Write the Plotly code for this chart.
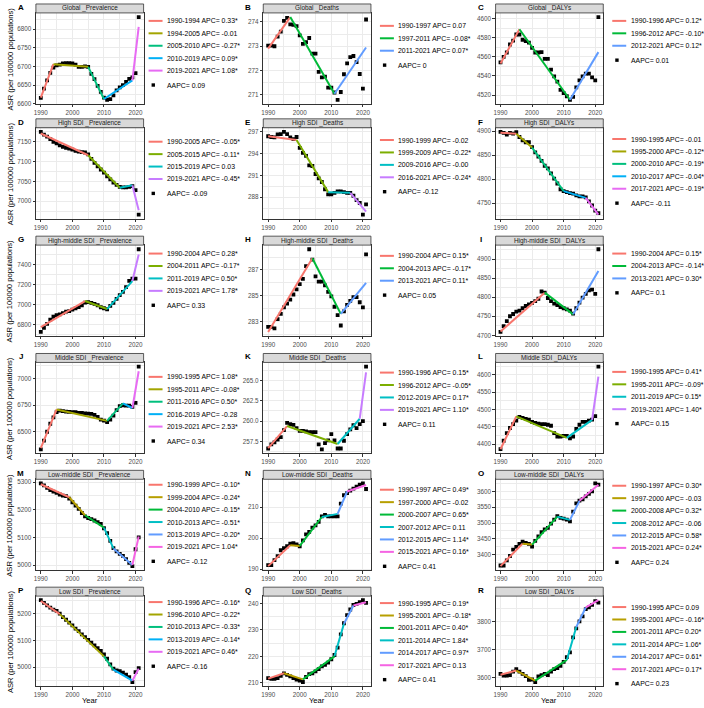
import plotly.graph_objects as go

YEARS = list(range(1990, 2022))

# ---------------- data ----------------
A_TITLE = "Global _Prevalence"
A_JOINS = [1990, 1994, 2005, 2010, 2019, 2021]
A_FIT = [6617, 6706, 6699, 6613, 6663, 6806]
A_APC = ["0.33*", "-0.01", "-0.27*", "0.09*", "1.08*"]
A_AAPC = "0.09"
A_OBS = [6616, 6641, 6663, 6683, 6697, 6703, 6705, 6708, 6709, 6709, 6708, 6705, 6699, 6699, 6700, 6699,
         6680, 6666, 6648, 6632, 6617, 6611, 6613, 6623, 6636, 6644, 6650, 6659, 6667, 6671, 6682, 6832]

B_TITLE = "Global _Deaths"
B_JOINS = [1990, 1997, 2011, 2021]
B_FIT = [272.9, 274.2, 271.05, 272.95]
B_APC = ["0.07", "-0.08*", "0.07*"]
B_AAPC = "0"
B_OBS = [273.03, 273.03, 273.0, 273.4, 273.6, 274.04, 274.17, 273.9, 273.88, 273.83, 273.45, 273.1, 273.17,
         273.34, 272.7, 272.7, 271.95, 271.72, 271.75, 271.3, 271.3, 271.1, 270.8, 271.12, 271.85, 272.3,
         272.55, 272.6, 272.35, 271.86, 271.26, 274.1]

C_TITLE = "Global _DALYs"
C_JOINS = [1990, 1996, 2012, 2021]
C_FIT = [4553, 4589, 4515, 4565]
C_APC = ["0.12*", "-0.10*", "0.12*"]
C_AAPC = "0.01"
C_OBS = [4554.3, 4560, 4564.6, 4573, 4577, 4583.5, 4583.5, 4578, 4576.5, 4575, 4569.5, 4564.6, 4564.6, 4565,
         4558, 4558, 4546.6, 4539.6, 4534, 4525.4, 4522, 4518.7, 4515, 4518, 4528, 4535.4, 4539.6, 4542.5,
         4542.5, 4538.6, 4535.4, 4601.8]

D_TITLE = "High SDI _Prevalence"
D_JOINS = [1990, 2005, 2015, 2019, 2021]
D_FIT = [7171, 7116, 7034, 7040, 6977]
D_APC = ["-0.05*", "-0.11*", "0.03", "-0.45*"]
D_AAPC = "-0.09"
D_OBS = [7175, 7168, 7163, 7157, 7150, 7146, 7141, 7137, 7135, 7133, 7130, 7127, 7125, 7124, 7123, 7118,
         7107, 7097, 7088, 7080, 7072, 7063, 7055, 7047, 7041, 7036, 7035, 7035, 7036, 7038, 7028, 6966]

E_TITLE = "High SDI _Deaths"
E_JOINS = [1990, 1999, 2009, 2016, 2021]
E_FIT = [296.4, 295.9, 288.7, 288.6, 286.0]
E_APC = ["-0.02", "-0.22*", "-0.00", "-0.24*"]
E_AAPC = "-0.12"
E_OBS = [296.4, 296.3, 296.25, 296.65, 296.7, 297.0, 296.7, 296.25, 296.0, 296.3, 294.8, 294.1, 293.7, 292.4,
         292.3, 291.2, 290.6, 290.1, 289.1, 288.4, 288.4, 288.6, 288.8, 288.8, 288.7, 288.6, 288.6, 288.2,
         287.6, 287.2, 285.6, 287.0]

F_TITLE = "High SDI _DALYs"
F_JOINS = [1990, 1995, 2000, 2010, 2017, 2021]
F_FIT = [4897, 4895, 4866, 4775, 4761, 4726]
F_APC = ["-0.01", "-0.12*", "-0.19*", "-0.04*", "-0.19*"]
F_AAPC = "-0.11"
F_OBS = [4898.6, 4896.5, 4893, 4896.5, 4895, 4898, 4888, 4881, 4877, 4877, 4867, 4856, 4847, 4838, 4828,
         4822.5, 4812, 4801, 4791, 4779, 4775, 4773, 4771, 4770, 4766, 4764, 4764, 4762, 4753.5, 4745,
         4734.5, 4729]

G_TITLE = "High-middle SDI _Prevalence"
G_JOINS = [1990, 2004, 2011, 2019, 2021]
G_FIT = [6775, 7035, 6955, 7235, 7500]
G_APC = ["0.28*", "-0.17*", "0.50*", "1.78*"]
G_AAPC = "0.33"
G_OBS = [6726, 6766, 6807, 6850, 6878, 6895, 6902, 6915, 6929, 6935, 6949, 6962, 6975, 6993, 7020, 7024,
         7017, 7007, 6993, 6973, 6963, 6953, 6986, 7017, 7057, 7094, 7127, 7175, 7236, 7260, 7260, 7553]

H_TITLE = "High-middle SDI _Deaths"
H_JOINS = [1990, 2004, 2013, 2021]
H_FIT = [282.2, 287.9, 283.6, 286.0]
H_APC = ["0.15*", "-0.17*", "0.11*"]
H_AAPC = "0.05"
H_OBS = [282.6, 282.6, 282.47, 283.2, 283.6, 284.1, 284.4, 284.7, 285.1, 285.5, 285.9, 286.3, 287.3, 288.6,
         287.8, 286.5, 286.1, 286.1, 285.8, 285.3, 284.95, 284.15, 283.5, 282.7, 283.8, 284.3, 284.6, 284.9,
         284.9, 284.5, 284.1, 288.2]

I_TITLE = "High-middle SDI _DALYs"
I_JOINS = [1990, 2004, 2013, 2021]
I_FIT = [4710, 4812, 4755, 4869]
I_APC = ["0.15*", "-0.14*", "0.30*"]
I_AAPC = "0.1"
I_OBS = [4708.8, 4724, 4737, 4750, 4756, 4762, 4765, 4771, 4777, 4781, 4785, 4790, 4796, 4815, 4812, 4798,
         4790, 4783, 4779, 4774, 4771, 4768, 4765, 4757, 4771, 4786, 4799, 4809, 4818, 4820, 4809, 4926]

J_TITLE = "Middle SDI _Prevalence"
J_JOINS = [1990, 1995, 2011, 2016, 2019, 2021]
J_FIT = [6342, 6708, 6600, 6765, 6722, 7070]
J_APC = ["1.08*", "-0.08*", "0.50*", "-0.28", "2.53*"]
J_AAPC = "0.34"
J_OBS = [6331, 6414, 6497, 6573, 6634, 6682, 6698, 6692, 6688, 6685, 6682, 6682, 6675, 6675, 6672, 6669,
         6666, 6656, 6637, 6612, 6602, 6589, 6612, 6650, 6701, 6739, 6748, 6745, 6745, 6732, 6771, 7114]

K_TITLE = "Middle SDI _Deaths"
K_JOINS = [1990, 1996, 2012, 2019, 2021]
K_FIT = [256.7, 259.4, 257.2, 260.3, 266.0]
K_APC = ["0.15*", "-0.05*", "0.17*", "1.10*"]
K_AAPC = "0.11"
K_OBS = [256.65, 257.15, 257.4, 257.75, 258.05, 258.9, 259.8, 259.65, 259.55, 259.15, 258.8, 258.8, 258.75,
         258.65, 258.65, 258.65, 257.15, 256.55, 257.3, 257.65, 258.4, 257.65, 256.65, 256.65, 257.6, 258.4,
         259.0, 259.5, 259.15, 259.65, 260.0, 266.7]

L_TITLE = "Middle SDI _DALYs"
L_JOINS = [1990, 1995, 2011, 2019, 2021]
L_FIT = [4385, 4480, 4418, 4470, 4595]
L_APC = ["0.41*", "-0.09*", "0.15*", "1.40*"]
L_AAPC = "0.15"
L_OBS = [4385.4, 4409.7, 4432, 4446.6, 4458, 4468, 4478.6, 4475.7, 4473, 4471, 4464, 4461, 4459, 4458, 4458,
         4456, 4453, 4432, 4422, 4422, 4424, 4424, 4416.5, 4422, 4443.7, 4456, 4464, 4464, 4468, 4471,
         4480.6, 4624]

M_TITLE = "Low-middle SDI _Prevalence"
M_JOINS = [1990, 1999, 2004, 2010, 2013, 2019, 2021]
M_FIT = [5292, 5245, 5180, 5135, 5060, 5000, 5103]
M_APC = ["-0.10*", "-0.24*", "-0.15*", "-0.51*", "-0.20*", "1.04*"]
M_AAPC = "-0.12"
M_OBS = [5295, 5288, 5279, 5271, 5265, 5261, 5255, 5251, 5249, 5240, 5227, 5215, 5203, 5188, 5176, 5170,
         5166, 5161, 5155, 5149, 5133, 5115, 5087, 5061, 5049, 5040, 5033, 5021, 5008, 4996, 5057, 5100]

N_TITLE = "Low-middle SDI _Deaths"
N_JOINS = [1990, 1997, 2000, 2007, 2012, 2015, 2021]
N_FIT = [191.0, 197.7, 197.5, 206.8, 207.8, 215.0, 217.1]
N_APC = ["0.49*", "-0.02", "0.65*", "0.11", "1.14*", "0.16*"]
N_AAPC = "0.41"
N_OBS = [191.3, 191.3, 192.9, 194.2, 196.1, 196.8, 197.4, 198.2, 198.4, 198.0, 197.4, 199.3, 201.2, 202.0,
         203.4, 204.1, 205.2, 207.0, 207.5, 207.0, 207.0, 207.0, 207.0, 211.1, 213.8, 214.5, 215.3, 215.9,
         216.6, 217.2, 217.6, 215.8]

O_TITLE = "Low-middle SDI _DALYs"
O_JOINS = [1990, 1997, 2000, 2008, 2012, 2015, 2021]
O_FIT = [3364, 3435, 3432, 3520, 3510, 3570, 3621]
O_APC = ["0.30*", "-0.03", "0.32*", "-0.06", "0.58*", "0.24*"]
O_AAPC = "0.24"
O_OBS = [3366, 3366, 3382, 3396, 3416, 3425, 3434, 3441, 3437, 3434, 3426, 3444, 3458, 3471, 3480, 3485,
         3498, 3511, 3522, 3516, 3514, 3511, 3505, 3536, 3562, 3571, 3575, 3584, 3592, 3600, 3625, 3621]

P_TITLE = "Low SDI _Prevalence"
P_JOINS = [1990, 1996, 2010, 2013, 2019, 2021]
P_FIT = [5247, 5198, 5040, 4990, 4949, 4994]
P_APC = ["-0.16*", "-0.22*", "-0.33*", "-0.14*", "0.46*"]
P_AAPC = "-0.16"
P_OBS = [5250, 5240, 5231, 5222, 5215, 5210, 5200, 5187, 5177, 5166, 5156, 5144, 5134, 5122, 5112, 5102,
         5091, 5081, 5071, 5060, 5047, 5031, 5010, 4994, 4987, 4985, 4979, 4972, 4962, 4944, 4981, 4996]

Q_TITLE = "Low SDI _Deaths"
Q_JOINS = [1990, 1995, 2001, 2011, 2014, 2017, 2021]
Q_FIT = [211.6, 213.6, 211.3, 220.0, 232.3, 239.2, 240.4]
Q_APC = ["0.19*", "-0.18*", "0.40*", "1.84*", "0.97*", "0.13"]
Q_AAPC = "0.41"
Q_OBS = [211.8, 211.5, 211.5, 211.8, 212.6, 213.6, 213.0, 212.4, 211.8, 211.2, 210.8, 210.3, 212.2, 213.3,
         213.6, 214.3, 215.2, 216.2, 216.8, 217.6, 218.9, 220.5, 223.3, 228.3, 232.5, 235.6, 237.7, 239.4,
         239.8, 240.5, 241.2, 240.2]

R_TITLE = "Low SDI _DALYs"
R_JOINS = [1990, 1995, 2001, 2011, 2014, 2017, 2021]
R_FIT = [3611, 3626, 3590, 3664, 3782, 3852, 3878]
R_APC = ["0.09", "-0.16*", "0.20*", "1.06*", "0.61*", "0.17*"]
R_AAPC = "0.23"
R_OBS = [3614, 3608, 3608, 3610, 3622, 3631, 3622, 3614, 3606, 3593, 3594, 3585, 3605, 3610, 3614, 3610,
         3622, 3631, 3635, 3643, 3657, 3674, 3691, 3745, 3777, 3802, 3820, 3846, 3852, 3861, 3875, 3869]

# y tick step / first tick per panel
Y_DTICK = [50, 1, 20, 50, 3, 50, 200, 2, 50, 250, 2.5, 50, 100, 10, 50, 100, 10, 100]
Y_TICK0 = [0, 0, 0, 0, 0, 0, 0, 1, 0, 0, 0, 0, 0, 0, 0, 0, 0, 0]
Y_FMT = ["", "", "", "", "", "", "", "", "", "", ".1f", "", "", "", "", "", "", ""]

LETTERS = list("ABCDEFGHIJKLMNOPQR")
TITLES = [A_TITLE, B_TITLE, C_TITLE, D_TITLE, E_TITLE, F_TITLE, G_TITLE, H_TITLE, I_TITLE,
          J_TITLE, K_TITLE, L_TITLE, M_TITLE, N_TITLE, O_TITLE, P_TITLE, Q_TITLE, R_TITLE]
JOINS = [A_JOINS, B_JOINS, C_JOINS, D_JOINS, E_JOINS, F_JOINS, G_JOINS, H_JOINS, I_JOINS,
         J_JOINS, K_JOINS, L_JOINS, M_JOINS, N_JOINS, O_JOINS, P_JOINS, Q_JOINS, R_JOINS]
FITS = [A_FIT, B_FIT, C_FIT, D_FIT, E_FIT, F_FIT, G_FIT, H_FIT, I_FIT,
        J_FIT, K_FIT, L_FIT, M_FIT, N_FIT, O_FIT, P_FIT, Q_FIT, R_FIT]
APCS = [A_APC, B_APC, C_APC, D_APC, E_APC, F_APC, G_APC, H_APC, I_APC,
        J_APC, K_APC, L_APC, M_APC, N_APC, O_APC, P_APC, Q_APC, R_APC]
AAPCS = [A_AAPC, B_AAPC, C_AAPC, D_AAPC, E_AAPC, F_AAPC, G_AAPC, H_AAPC, I_AAPC,
         J_AAPC, K_AAPC, L_AAPC, M_AAPC, N_AAPC, O_AAPC, P_AAPC, Q_AAPC, R_AAPC]
OBS = [A_OBS, B_OBS, C_OBS, D_OBS, E_OBS, F_OBS, G_OBS, H_OBS, I_OBS,
       J_OBS, K_OBS, L_OBS, M_OBS, N_OBS, O_OBS, P_OBS, Q_OBS, R_OBS]

# ---------------- layout (pixels) ----------------
W, H = 704, 708
COL_L = [34, 262, 495]
COL_W = 108
PLOT_TOP = [12, 127.5, 245.5, 363.5, 481, 598.5]
PLOT_BOT = [103.5, 219, 337, 455, 572.5, 689]
STRIP_H = 9
LEG_X = [147, 379, 612]
LEG_OFF = [8, 13, 8, 14, 12.3, 11.3, 8.5, 10.8, 8.5, 14.5, 10.2, 9.5, 5.5, 10.5, 6.5, 6, 7, 11]
LEG_STEP = 12.5
AAPC_GAP = 14.5

HUE = {
    3: ["#F8766D", "#00BA38", "#619CFF"],
    4: ["#F8766D", "#7CAE00", "#00BFC4", "#C77CFF"],
    5: ["#F8766D", "#A3A500", "#00BF7D", "#00B0F6", "#E76BF3"],
    6: ["#F8766D", "#B79F00", "#00BA38", "#00BFC4", "#619CFF", "#F564E3"],
}

FONT = "Liberation Sans"
GRID = "#EBEBEB"
DARK = "#333333"


def px(x):
    return x / W


def py(y):
    return 1 - y / H


fig = go.Figure()
shapes = []
annos = []

for i in range(18):
    r, c = divmod(i, 3)
    n = i + 1
    sfx = "" if n == 1 else str(n)
    xa, ya = "x" + sfx, "y" + sfx
    x0, x1 = COL_L[c], COL_L[c] + COL_W
    y0, y1 = PLOT_TOP[r], PLOT_BOT[r]
    joins, fit, apc, obs = JOINS[i], FITS[i], APCS[i], OBS[i]
    nseg = len(joins) - 1
    cols = HUE[nseg]

    allv = list(obs) + list(fit)
    lo, hi = min(allv), max(allv)
    pad = 0.05 * (hi - lo)

    fig.add_trace(go.Scatter(x=YEARS, y=obs, mode="markers", xaxis=xa, yaxis=ya,
                             marker=dict(symbol="square", size=3.8, color="black"),
                             showlegend=False, hoverinfo="skip"))
    for k in range(nseg):
        fig.add_trace(go.Scatter(x=[joins[k], joins[k + 1]], y=[fit[k], fit[k + 1]], mode="lines",
                                 xaxis=xa, yaxis=ya, line=dict(color=cols[k], width=2),
                                 showlegend=False, hoverinfo="skip"))

    common = dict(showline=True, mirror=True, linecolor=DARK, linewidth=0.8, ticks="outside",
                  ticklen=2.5, tickwidth=0.7, tickcolor=DARK, showgrid=True, gridcolor=GRID,
                  gridwidth=0.9, zeroline=False,
                  tickfont=dict(family=FONT, size=6.3, color="#4D4D4D"))
    fig.update_layout(**{
        "xaxis" + sfx: dict(domain=[px(x0), px(x1)], anchor=ya, range=[1988.45, 2022.55],
                            tick0=1990, dtick=10,
                            minor=dict(dtick=5, showgrid=True, gridcolor=GRID, gridwidth=0.5, ticks=""),
                            **common),
        "yaxis" + sfx: dict(domain=[py(y1), py(y0)], anchor=xa, range=[lo - pad, hi + pad],
                            tick0=Y_TICK0[i], dtick=Y_DTICK[i], tickformat=Y_FMT[i],
                            minor=dict(dtick=Y_DTICK[i] / 2, showgrid=True, gridcolor=GRID,
                                       gridwidth=0.5, ticks=""),
                            **common),
    })

    # strip
    shapes.append(dict(type="rect", xref="paper", yref="paper", x0=px(x0), x1=px(x1),
                       y0=py(y0), y1=py(y0 - STRIP_H), fillcolor="#D9D9D9",
                       line=dict(color=DARK, width=0.8), layer="above"))
    annos.append(dict(text=TITLES[i], xref="paper", yref="paper", x=px((x0 + x1) / 2),
                      y=py(y0 - STRIP_H / 2), showarrow=False, xanchor="center", yanchor="middle",
                      font=dict(family=FONT, size=6.4, color="#1A1A1A")))
    annos.append(dict(text="<b>" + LETTERS[i] + "</b>", xref="paper", yref="paper",
                      x=px(x0 - 15), y=py(y0 - 5.5), showarrow=False, xanchor="center",
                      yanchor="middle", font=dict(family=FONT, size=8, color="black")))

    # legend
    lx = LEG_X[c]
    ly = y0 + LEG_OFF[i]
    for k in range(nseg):
        yy = ly + k * LEG_STEP
        shapes.append(dict(type="line", xref="paper", yref="paper", x0=px(lx), x1=px(lx + 14),
                           y0=py(yy), y1=py(yy), line=dict(color=cols[k], width=2)))
        annos.append(dict(text=f"{joins[k]}-{joins[k + 1]} APC= {apc[k]}", xref="paper", yref="paper",
                          x=px(lx + 16.5), y=py(yy), showarrow=False, xanchor="left", yanchor="middle",
                          font=dict(family=FONT, size=6.9, color="black")))
    yy = ly + (nseg - 1) * LEG_STEP + AAPC_GAP
    shapes.append(dict(type="rect", xref="paper", yref="paper", x0=px(lx + 3), x1=px(lx + 6.4),
                       y0=py(yy - 1.7), y1=py(yy + 1.7), fillcolor="black", line=dict(width=0)))
    annos.append(dict(text=f"AAPC= {AAPCS[i]}", xref="paper", yref="paper",
                      x=px(lx + 16.5), y=py(yy), showarrow=False, xanchor="left", yanchor="middle",
                      font=dict(family=FONT, size=6.9, color="black")))

    if c == 0:
        annos.append(dict(text="ASR (per 100000 populations)", xref="paper", yref="paper",
                          x=px(8), y=py((y0 + y1) / 2), showarrow=False, textangle=-90,
                          xanchor="center", yanchor="middle",
                          font=dict(family=FONT, size=7.6, color="black")))
    if r == 5:
        annos.append(dict(text="Year", xref="paper", yref="paper", x=px((x0 + x1) / 2), y=py(703),
                          showarrow=False, xanchor="center", yanchor="middle",
                          font=dict(family=FONT, size=7.6, color="black")))

fig.update_layout(width=W, height=H, margin=dict(l=0, r=0, t=0, b=0),
                  paper_bgcolor="white", plot_bgcolor="white", showlegend=False,
                  font=dict(family=FONT), shapes=shapes, annotations=annos)

fig.write_html("out.html")
